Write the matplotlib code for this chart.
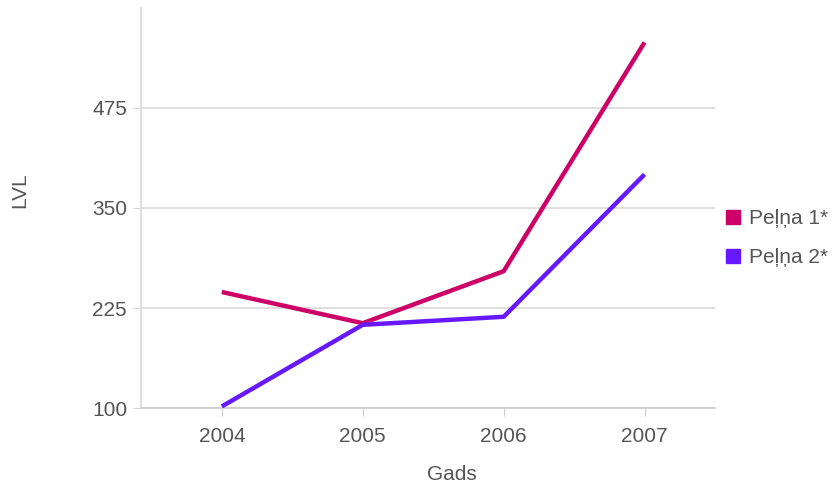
import matplotlib.pyplot as plt
from matplotlib.lines import Line2D

years = ['2004', '2005', '2006', '2007']
pelna1 = [245, 206, 271, 557]
pelna2 = [102, 204, 214, 392]
yticks = [100, 225, 350, 475]

plt.rcParams['font.family'] = ['Liberation Sans', 'DejaVu Sans']
grey = '#555555'
fs = 15

fig = plt.figure(figsize=(8.32, 4.86), dpi=100)
ax = fig.add_axes([141 / 832, 78 / 486, 574 / 832, 400 / 486])

x = range(len(years))
ax.plot(x, pelna1, color='#cc0066', lw=3.2, solid_capstyle='butt', zorder=3)
ax.plot(x, pelna2, color='#6619ff', lw=3.2, solid_capstyle='butt', zorder=3)

ax.set_xlim(-0.574, 3.5)
ax.set_ylim(100, 600)
ax.set_xticks(list(x))
ax.set_xticklabels(years)
ax.set_yticks(yticks)
ax.grid(axis='y', color='#d9d9d9', lw=1.2)
ax.set_axisbelow(True)

for s in ['top', 'right']:
    ax.spines[s].set_visible(False)
ax.spines['left'].set_color('#d9d9d9')
ax.spines['bottom'].set_color('#cccccc')
ax.spines['left'].set_linewidth(1.2)
ax.spines['bottom'].set_linewidth(1.2)
ax.tick_params(axis='y', colors='#d9d9d9', labelcolor=grey, labelsize=fs, length=6, pad=4)
ax.tick_params(axis='x', colors='#cccccc', labelcolor=grey, labelsize=fs, length=6, pad=8)

fig.text(20 / 832, 1 - 190 / 486, 'LVL', rotation=90, color=grey, fontsize=fs,
         ha='center', va='center')
fig.text(452 / 832, 1 - 474 / 486, 'Gads', color=grey, fontsize=fs,
         ha='center', va='center')

handles = [Line2D([], [], ls='', marker='s', markersize=10, color='#cc0066'),
           Line2D([], [], ls='', marker='s', markersize=10, color='#6619ff')]
fig.legend(handles, ['Peļņa 1*', 'Peļņa 2*'], loc='center left',
           bbox_to_anchor=(724 / 832, 1 - 238 / 486), frameon=False,
           borderpad=0, borderaxespad=0, handlelength=0.9,
           fontsize=fs, labelcolor=grey, handletextpad=0.3, labelspacing=0.95)

fig.savefig('out.png')
